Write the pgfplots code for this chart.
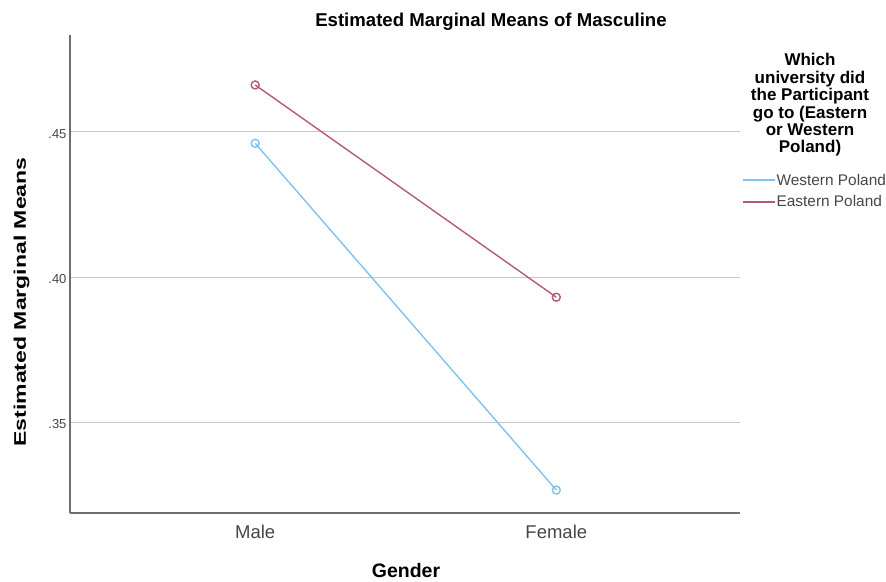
\documentclass[border=0pt]{standalone}
\usepackage{pgfplots}
\pgfplotsset{compat=1.18}
\usepackage{fontspec}
\setmainfont{Liberation Sans}
\definecolor{west}{RGB}{125,195,240}
\definecolor{east}{RGB}{180,90,115}
\definecolor{axgray}{RGB}{110,110,110}
\definecolor{gridgray}{RGB}{200,200,200}
\definecolor{txtgray}{RGB}{70,70,70}
\begin{document}
\begin{tikzpicture}[x=1pt,y=1pt]
\path[use as bounding box] (0,0) rectangle (886,581);
\begin{axis}[
  at={(70pt,68pt)}, anchor=south west,
  scale only axis, width=670pt, height=478pt,
  xmin=-0.615, xmax=1.61,
  ymin=0.3188, ymax=0.4834,
  axis x line*=bottom, axis y line*=left,
  axis line style={axgray, line width=1.5pt, -},
  every outer x axis line/.append style={-},
  every outer y axis line/.append style={-},
  xtick={0,1}, xticklabels={Male,Female},
  ytick={0.35,0.40,0.45}, yticklabels={.35,.40,.45},
  major tick length=0pt,
  ymajorgrids, grid style={gridgray, line width=1pt},
  x tick label style={font=\fontsize{18.5}{20}\selectfont, text=txtgray, yshift=-9pt},
  y tick label style={font=\fontsize{13}{15}\selectfont, text=txtgray, yshift=-2pt},
  legend style={at={(1.003,0.712)}, anchor=north west, draw=none, fill=none,
    font=\fontsize{15.4}{17}\selectfont, row sep=7pt, inner sep=0pt,
    nodes={inner sep=1pt, text=txtgray}},
  legend cell align=left,
  legend image code/.code={\draw[#1] (0pt,0pt) -- (32pt,0pt);},
  clip=false,
]
\addplot[west, line width=1.4pt, mark=o, mark size=4pt, mark options={line width=1.4pt}]
  coordinates {(0,0.4461) (1,0.3267)};
\addlegendentry{Western Poland}
\addplot[east, line width=1.4pt, mark=o, mark size=4pt, mark options={line width=1.4pt}]
  coordinates {(0,0.4662) (1,0.3931)};
\addlegendentry{Eastern Poland}
\end{axis}
\node[font=\bfseries\fontsize{18.6}{20}\selectfont] at (491,559.5) {Estimated Marginal Means of Masculine};
\node[font=\bfseries\fontsize{16.8}{18}\selectfont, rotate=90] at (21.5,279) {\scalebox{1.37}[1]{Estimated Marginal Means}};
\node[font=\bfseries\fontsize{19.5}{21}\selectfont, inner sep=0pt] at (406,10.5) {Gender};
\node[font=\bfseries\fontsize{17}{17.4}\selectfont, align=center, anchor=north] at (810,531)
  {Which\\university did\\the Participant\\go to (Eastern\\or Western\\Poland)};
\end{tikzpicture}
\end{document}
